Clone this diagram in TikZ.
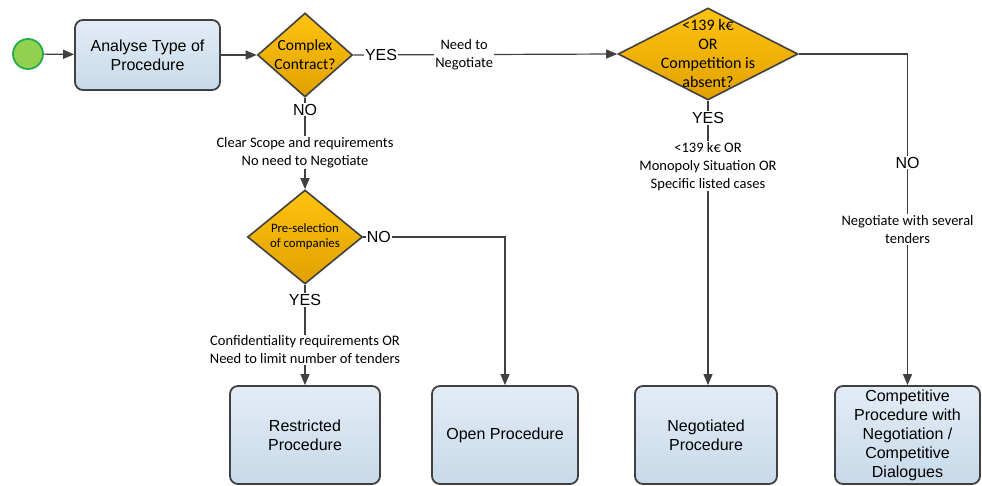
\documentclass[tikz,border=0pt]{standalone}
\usepackage{fontspec}
\setmainfont{Liberation Sans}
\newfontfamily\calibri{Carlito}
\usetikzlibrary{shapes.geometric,arrows.meta}
\definecolor{boxtop}{HTML}{E3ECF5}
\definecolor{boxbot}{HTML}{C7DAEA}
\definecolor{goldtop}{HTML}{FFC30F}
\definecolor{goldbot}{HTML}{E0A100}
\definecolor{edge}{HTML}{404040}
\definecolor{startfill}{HTML}{92D050}
\definecolor{startedge}{HTML}{22AD4A}

\begin{document}
\begin{tikzpicture}[x=1pt,y=-1pt]
        \tikzstyle{every node}=[font=\fontsize{16}{19}\selectfont]
        \tikzstyle{procbox}=[draw=edge, line width=1.8pt, rounded corners=8pt, top color=boxtop, bottom color=boxbot, align=center, inner sep=0pt]
        \tikzstyle{decision}=[diamond, draw=edge, line width=1.6pt, top color=goldtop, bottom color=goldbot, inner sep=0pt]
        \tikzstyle{dectext}=[align=center, font=\calibri\fontsize{15.5}{19}\selectfont]
        \tikzstyle{flow}=[draw=edge, line width=1.2pt, -{Triangle[length=11pt,width=9pt]}]
        \tikzstyle{answer}=[fill=white, inner sep=1pt]
        \tikzstyle{cond}=[fill=white, inner sep=1pt, align=center, font=\calibri\fontsize{14.5}{18}\selectfont]

        \useasboundingbox (0,0) rectangle (982,486);

        \node[circle, draw=startedge, line width=1.8pt, fill=startfill, minimum size=30pt, inner sep=0pt] (start) at (28,54) {};
        \node[procbox, minimum width=145pt, minimum height=70pt] (analyse) at (147.5,55) {Analyse Type of\\Procedure};

        \node[decision, minimum width=95pt, minimum height=84pt,
              label={[dectext]center:Complex\\Contract?}] (complex) at (305,55) {};
        \node[decision, minimum width=180pt, minimum height=92pt,
              label={[dectext, font=\calibri\fontsize{16}{19}\selectfont]center:<139 k€\\OR\\Competition is\\absent?}] (competition) at (708,54) {};
        \node[decision, minimum width=115pt, minimum height=94pt,
              label={[dectext, font=\calibri\fontsize{12.8}{15}\selectfont]center:Pre-selection\\of companies}] (preselection) at (305,237) {};

        \node[procbox, minimum width=150pt, minimum height=98pt] (restricted) at (305,435) {Restricted\\Procedure};
        \node[procbox, minimum width=146pt, minimum height=98pt] (open) at (505,435) {Open Procedure};
        \node[procbox, minimum width=142pt, minimum height=98pt] (negotiated) at (706,435) {Negotiated\\Procedure};
        \node[procbox, minimum width=145pt, minimum height=98pt] (competitive) at (907.5,435) {Competitive\\Procedure with\\Negotiation /\\Competitive\\Dialogues};

        \draw[flow] (start) -- (analyse);
        \draw[flow] (analyse) -- (complex.west);
        \draw[flow] (complex.east) -- node[answer, pos=0.105] {YES}
            node[cond, pos=0.42] {Need to\\Negotiate} (competition.west);
        \draw[flow] (complex.south) -- node[answer, pos=0.13] {NO}
            node[cond, pos=0.6] {Clear Scope and requirements\\No need to Negotiate} (preselection.north);
        \draw[flow] (preselection.east) -| node[answer, pos=0.055] {NO} (open.north);
        \draw[flow] (preselection.south) -- node[answer, pos=0.15] {YES}
            node[cond, pos=0.65] {Confidentiality requirements OR\\Need to limit number of tenders} (restricted.north);
        \draw[flow] (competition.south) -- node[answer, pos=0.06] {YES}
            node[cond, pos=0.23] {<139 k€ OR\\Monopoly Situation OR\\Specific listed cases} (negotiated.north -| competition.south);
        \draw[flow] (competition.east) -| node[answer, pos=0.664] {NO}
            node[cond, pos=0.765] {Negotiate with several\\tenders} (competitive.north);

    \end{tikzpicture}
\end{document}
